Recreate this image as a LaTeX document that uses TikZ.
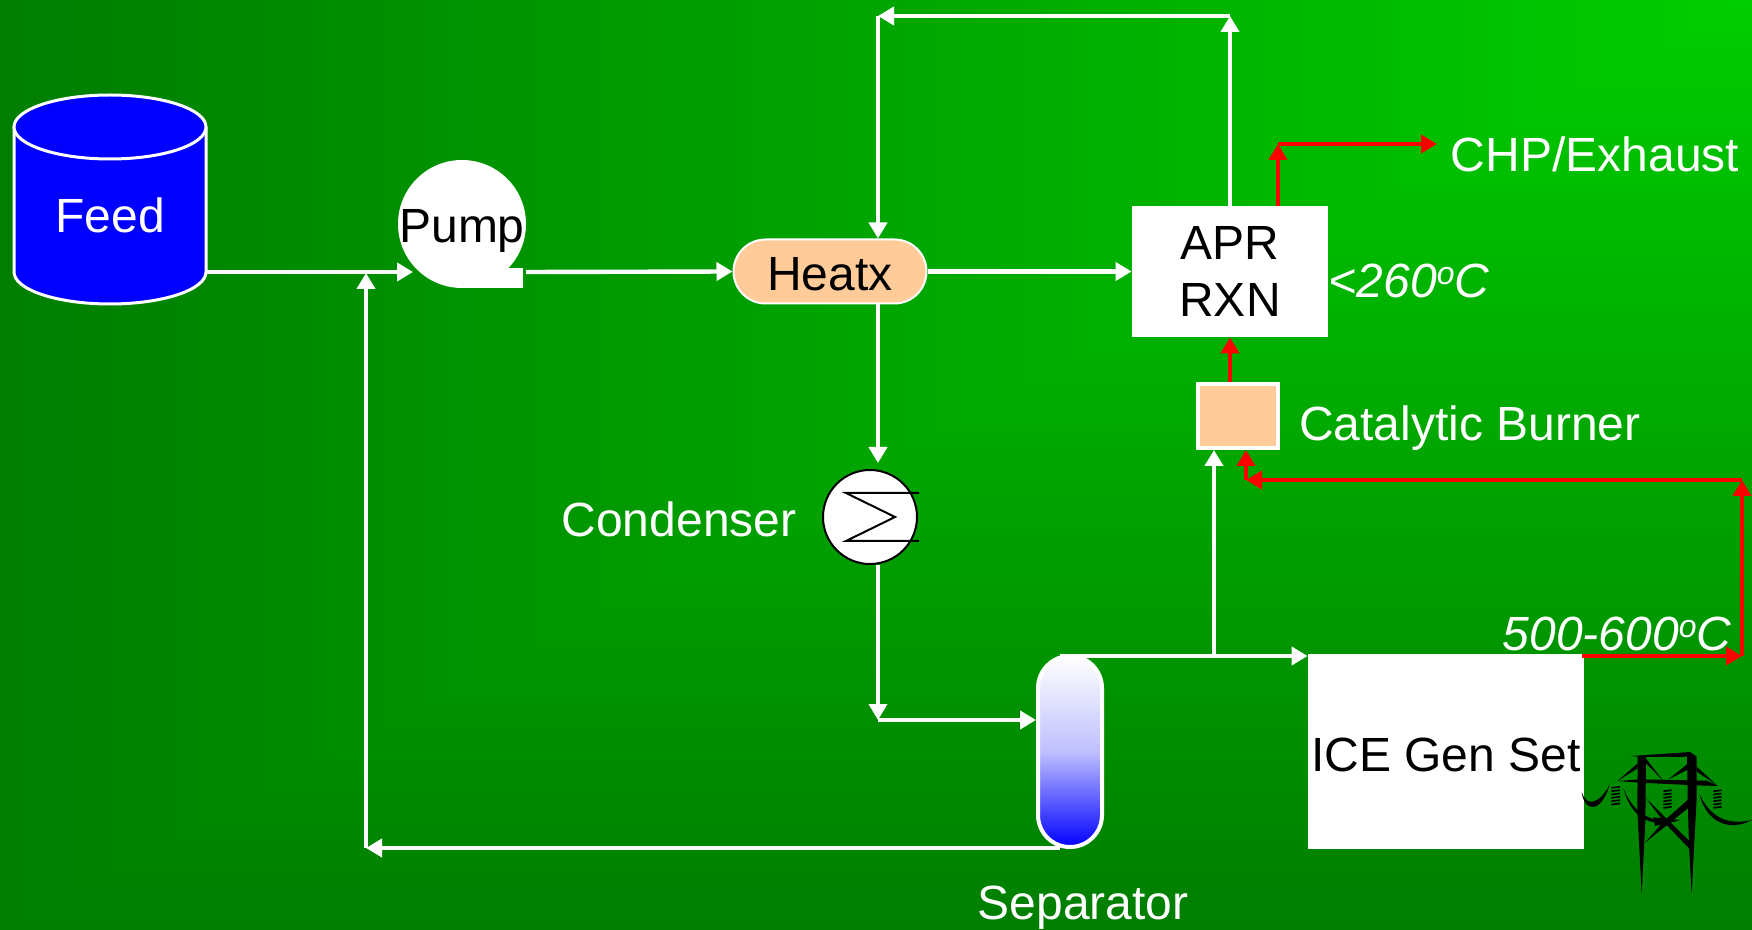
\documentclass[tikz,border=0pt]{standalone}
\usepackage{fontspec}
\setmainfont{Liberation Sans}
\usepackage{tikz}
\usetikzlibrary{positioning,calc,shapes.geometric,arrows.meta}
\definecolor{heatpeach}{RGB}{255,204,153}
\newcommand{\dego}{\raisebox{6.5pt}{\fontsize{16}{16}\selectfont o}}

\begin{document}
\begin{tikzpicture}[
  x=0.5pt, y=-0.5pt,
  tag/.style={text=white, font=\fontsize{24}{28}\selectfont, inner sep=0pt},
  slanttag/.style={tag, font=\fontsize{24}{28}\selectfont\itshape},
  boxtext/.style={text=black, font=\fontsize{24}{28.6}\selectfont, align=center, inner sep=0pt},
  whitebox/.style={boxtext, fill=white, minimum width=98pt, minimum height=65.5pt},
  flow/.style={-{Triangle[length=8pt,width=9pt]}, line width=2.2pt, white},
  hotflow/.style={-{Triangle[length=8pt,width=9pt]}, line width=2.2pt, red}
]
  \useasboundingbox (0,0) rectangle (1752,930);
  \foreach \i in {0,...,78} {
    \pgfmathtruncatemacro{\greenval}{126+\i}
    \definecolor{bgstep}{RGB}{0,\greenval,0}
    \fill[bgstep] ({1752/79*\i},0) rectangle (1752,{930-930/79*\i});
  }

  \draw[white, line width=1.5pt, fill=blue] (14,127) -- (14,272) arc[start angle=180, end angle=0, x radius=96, y radius=32] -- (206,127);
  \draw[white, line width=1.5pt, fill=blue] (110,127) ellipse [x radius=96, y radius=32];
  \node[tag] (feed) at (110,215) {Feed};
  \node[circle, fill=white, minimum size=64pt, inner sep=0pt] (pump) at (462,224) {};
  \node[fill=white, minimum width=30.5pt, minimum height=10pt, inner sep=0pt] (pumptab) at (492.5,278) {};
  \node[boxtext] (pumptext) at (462,231) {Pump};
  \node[boxtext, draw=white, line width=1pt, fill=heatpeach, rounded corners=16pt, minimum width=96.5pt, minimum height=32pt] (heatx) at (830,271.5) {\raisebox{-9.7pt}[0pt][0pt]{Heatx}};
  \node[whitebox] (rxn) at (1230,271.5) {APR\\RXN};
  \node[draw=white, line width=2pt, fill=heatpeach, minimum width=40pt, minimum height=32pt, inner sep=0pt] (burner) at (1238,416) {};
  \node[circle, draw=black, line width=1pt, fill=white, minimum size=47pt, inner sep=0pt] (condenser) at (870,517) {};
  \node[draw=white, line width=2pt, top color=white, bottom color=blue, middle color=blue!25, rounded corners=16pt, minimum width=32pt, minimum height=95.5pt, inner sep=0pt] (separator) at (1070,751.5) {};
  \node[boxtext, fill=white, minimum width=138pt, minimum height=97.5pt] (ice) at (1446,751.5) {\raisebox{-9.9pt}[0pt][0pt]{ICE Gen Set}};

  \node[tag] (chp) at (1595,154) {CHP/Exhaust};
  \node[slanttag] (rxntemp) at (1409,281) {<260\dego C};
  \node[tag] (burnertext) at (1470,428.5) {Catalytic Burner};
  \node[tag] (condensertext) at (679,519) {Condenser};
  \node[slanttag] (icetemp) at (1617,634) {500-600\dego C};
  \node[tag] (separatortext) at (1083,908) {Separator};

  \draw[black, line width=1pt] (919,493) -- (846,493) -- (895,517) -- (846,541) -- (919,541);

  \coordinate (feedout) at (206,272);
  \coordinate (pumpin) at (413,272);
  \coordinate (pumpout) at (526,272);
  \coordinate (junction) at (366,273);
  \coordinate (recycle) at (366,848);
  \coordinate (sepbottom) at (1060,848);
  \coordinate (topright) at (1230,16);
  \coordinate (topleft) at (878,16);
  \coordinate (condin) at (878,463);
  \coordinate (condout) at (878,565);
  \coordinate (sepcorner) at (878,720);
  \coordinate (septop) at (1060,656);
  \coordinate (branch) at (1214,656);
  \coordinate (iceout) at (1582,656);
  \coordinate (hotcorner) at (1742,656);
  \coordinate (hottop) at (1742,480);
  \coordinate (hotleft) at (1246,480);
  \coordinate (exhaustup) at (1278,144);
  \coordinate (exhaust) at (1437,144);

  \draw[flow] (feedout) -- (pumpin);
  \draw[flow] (pumpout) -- (heatx.west);
  \draw[flow] (heatx.east) -- (rxn.west);
  \draw[flow] (rxn.north) -- (topright);
  \draw[flow] (topright) -- (topleft);
  \draw[flow] (topleft) -- (topleft |- heatx.north);
  \draw[flow] (topleft |- heatx.south) -- (condin);
  \draw[flow] (condout) -- (sepcorner);
  \draw[flow] (sepcorner) -- (sepcorner -| separator.west);
  \draw[flow] (septop) -- (septop -| ice.west);
  \draw[flow] (branch) -- (branch |- burner.south);
  \draw[flow] (sepbottom) -- (recycle);
  \draw[flow] (recycle) -- (junction);

  \draw[hotflow] (rxn.south |- burner.north) -- (rxn.south);
  \draw[hotflow] (iceout) -- (hotcorner);
  \draw[hotflow] (hotcorner) -- (hottop);
  \draw[hotflow] (hottop) -- (hotleft);
  \draw[hotflow] (hotleft) -- (hotleft |- burner.south);
  \draw[hotflow] (exhaustup |- rxn.north) -- (exhaustup);
  \draw[hotflow] (exhaustup) -- (exhaust);

  \begin{scope}[shift={(1540,720)}, x=0.1667pt, y=-0.1667pt]
    \fill[black] (275,108) -- (450,96) -- (470,110) -- (300,111) -- cycle;
    \fill[black] (293,110) -- (318,110) -- (316,300) -- (305,522) -- (292,270) -- cycle;
    \fill[black] (441,105) -- (470,110) -- (470,235) -- (462,380) -- (455,522) -- (447,380) -- (443,240) -- cycle;
    \fill[black] (232,183) -- (300,178) -- (500,182) -- (535,198) -- (470,196) -- (300,188) -- cycle;
    \fill[black] (232,183) -- (293,130) -- (293,145) -- cycle;
    \fill[black] (318,116) -- (372,185) -- (318,130) -- cycle;
    \fill[black] (385,178) -- (445,130) -- (445,148) -- cycle;
    \fill[black] (470,140) -- (530,195) -- (470,155) -- cycle;
    \fill[black] (318,235) -- (450,365) -- (450,388) -- (375,310) -- cycle;
    \fill[black] (445,238) -- (447,262) -- (315,368) -- (375,300) -- cycle;
    \fill[black] (340,292) -- (420,300) -- (345,318) -- cycle;
    \fill[black] (125,215) .. controls (130,270) and (180,290) .. (210,192) .. controls (180,250) and (140,265) .. (125,215) -- cycle;
    \fill[black] (250,205) .. controls (275,300) and (340,325) .. (420,300) .. controls (340,310) and (285,290) .. (250,205) -- cycle;
    \fill[black] (478,222) .. controls (500,310) and (570,335) .. (636,300) .. controls (570,315) and (515,300) .. (478,222) -- cycle;
    \foreach \y in {0,1,2,3,4,5} {
      \fill[black] (214,{201+\y*10}) -- (240,{198+\y*10}) -- (240,{203+\y*10}) -- (214,{206+\y*10}) -- cycle;
      \fill[black] (370,{211+\y*10}) -- (395,{208+\y*10}) -- (395,{213+\y*10}) -- (370,{216+\y*10}) -- cycle;
      \fill[black] (520,{211+\y*10}) -- (545,{208+\y*10}) -- (545,{213+\y*10}) -- (520,{216+\y*10}) -- cycle;
    }
  \end{scope}
\end{tikzpicture}
\end{document}
